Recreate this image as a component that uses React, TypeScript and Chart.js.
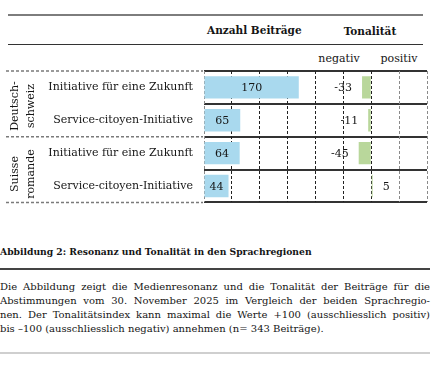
import React, { useEffect, useRef } from 'react';
import { Chart, registerables } from 'chart.js';

Chart.register(...registerables);

const categories = [
  'Initiative für eine Zukunft',
  'Service-citoyen-Initiative',
  'Initiative für eine Zukunft',
  'Service-citoyen-Initiative',
];
const regionLabels = [
  ['Deutsch-', 'schweiz'],
  ['Suisse', 'romande'],
];
const anzahlBeitraege = [170, 65, 64, 44];
const tonalitaet = [-33, -11, -45, 5];
const anzahlRange = [0, 200];
const anzahlStep = 50;
const tonRange = [-200, 200];
const tonStep = 100;
const headerLabels = ['Anzahl Beiträge', 'Tonalität'];
const tonSideLabels = ['negativ', 'positiv'];
const captionTitle = 'Abbildung 2: Resonanz und Tonalität in den Sprachregionen';
const captionLines = [
  'Die Abbildung zeigt die Medienresonanz und die Tonalität der Beiträge für die',
  'Abstimmungen vom 30. November 2025 im Vergleich der beiden Sprachregio-',
  'nen. Der Tonalitätsindex kann maximal die Werte +100 (ausschliesslich positiv)',
  'bis –100 (ausschliesslich negativ) annehmen (n= 343 Beiträge).',
];

const FONT = '"DejaVu Serif", serif';
const BLUE = '#a9d9ee';
const GREEN = '#b9d79b';
const TEXT = '#151515';

const overlayPlugin = {
  id: 'overlay',
  beforeDatasetsDraw(chart: any) {
    const { ctx, chartArea, scales } = chart;
    const y = scales.y;
    const mid = (y.getPixelForValue(1) + y.getPixelForValue(2)) / 2;
    ctx.save();
    ctx.strokeStyle = '#7a7a7a';
    ctx.lineWidth = 1.5;
    ctx.setLineDash([3, 2]);
    [chartArea.top, mid, chartArea.bottom].forEach((yy: number) => {
      ctx.beginPath();
      ctx.moveTo(6, yy);
      ctx.lineTo(chartArea.left - 1, yy);
      ctx.stroke();
    });
    ctx.restore();
  },
  afterDatasetsDraw(chart: any) {
    const { ctx } = chart;
    ctx.save();
    ctx.fillStyle = TEXT;
    ctx.font = `11px ${FONT}`;
    ctx.textBaseline = 'middle';
    const m0 = chart.getDatasetMeta(0);
    m0.data.forEach((bar: any, i: number) => {
      ctx.textAlign = 'center';
      ctx.fillText(String(anzahlBeitraege[i]), (bar.base + bar.x) / 2, bar.y + 1);
    });
    const m1 = chart.getDatasetMeta(1);
    m1.data.forEach((bar: any, i: number) => {
      const v = tonalitaet[i];
      if (v < 0) {
        ctx.textAlign = 'right';
        ctx.fillText(String(v), bar.x - 10, bar.y + 1);
      } else {
        ctx.textAlign = 'left';
        ctx.fillText(String(v), bar.x + 10, bar.y + 1);
      }
    });
    ctx.restore();
  },
};

function ChartBlock() {
  const ref = useRef<HTMLCanvasElement | null>(null);
  useEffect(() => {
    if (!ref.current) return;
    const chart = new Chart(ref.current, {
      type: 'bar',
      data: {
        labels: categories,
        datasets: [
          {
            label: headerLabels[0],
            data: anzahlBeitraege,
            xAxisID: 'x',
            yAxisID: 'y',
            backgroundColor: BLUE,
            grouped: false,
            barPercentage: 0.68,
            categoryPercentage: 1,
          } as any,
          {
            label: headerLabels[1],
            data: tonalitaet,
            xAxisID: 'x2',
            yAxisID: 'y',
            backgroundColor: GREEN,
            grouped: false,
            barPercentage: 0.68,
            categoryPercentage: 1,
          } as any,
        ],
      },
      options: {
        indexAxis: 'y',
        responsive: false,
        animation: false,
        devicePixelRatio: 1,
        layout: { padding: { left: 8, top: 71, right: 8, bottom: 8 } },
        plugins: { legend: { display: false }, tooltip: { enabled: false } },
        scales: {
          y: {
            type: 'category',
            position: 'left',
            afterFit: (s: any) => { s.width = 196; },
            grid: { drawTicks: false, color: '#333', lineWidth: 2, offset: true },
            border: { display: false, dash: [] },
            ticks: { padding: 11, color: TEXT, font: { family: FONT, size: 11 } },
          },
          x: {
            type: 'linear',
            position: 'bottom',
            stack: 'panels',
            stackWeight: 1,
            min: anzahlRange[0],
            max: anzahlRange[1],
            afterFit: (s: any) => { s.height = 0; },
            ticks: { display: false, stepSize: anzahlStep },
            grid: {
              drawTicks: false,
              lineWidth: 1,
              color: (c: any) => (c.tick && c.tick.value === 0 ? '#8a8a8a' : '#222'),
            },
            border: { display: false, dash: [3, 2] },
          },
          x2: {
            type: 'linear',
            position: 'bottom',
            stack: 'panels',
            stackWeight: 1,
            min: tonRange[0],
            max: tonRange[1],
            afterFit: (s: any) => { s.height = 0; },
            ticks: { display: false, stepSize: tonStep },
            grid: {
              drawTicks: false,
              lineWidth: 1,
              color: (c: any) => (c.tick && c.tick.value > 0 ? '#8a8a8a' : '#222'),
            },
            border: { display: false, dash: [3, 2] },
          },
        },
      } as any,
      plugins: [overlayPlugin],
    });
    return () => chart.destroy();
  }, []);
  return (
    <canvas
      ref={ref}
      width={435}
      height={220}
      style={{ position: 'absolute', left: 0, top: 0, width: 435, height: 220 }}
    />
  );
}

const abs = (left: number, top: number, extra: any = {}) => ({
  position: 'absolute' as const,
  left,
  top,
  ...extra,
});

export default function App() {
  const groupCenters = [106, 174];
  return (
    <div style={{ position: 'absolute', left: 0, top: 0, width: 435, height: 367, background: '#fff', fontFamily: FONT, color: TEXT }}>
      <div style={abs(8, 14, { width: 415, height: 2, background: '#7d7d7d' })} />
      <div style={abs(8, 43.5, { width: 415, height: 1.5, background: '#333' })} />
      <div style={abs(207, 22, { fontSize: 10.5, fontWeight: 'bold', lineHeight: '16px', whiteSpace: 'nowrap' })}>{headerLabels[0]}</div>
      <div style={abs(320, 23, { width: 100, textAlign: 'center', fontSize: 10.5, fontWeight: 'bold', lineHeight: '16px' })}>{headerLabels[1]}</div>
      <div style={abs(299, 51, { width: 80, textAlign: 'center', fontSize: 11, lineHeight: '16px' })}>{tonSideLabels[0]}</div>
      <div style={abs(359, 51, { width: 80, textAlign: 'center', fontSize: 11, lineHeight: '16px' })}>{tonSideLabels[1]}</div>
      <ChartBlock />
      {regionLabels.map((lines, i) => (
        <div
          key={i}
          style={abs(23 - 35, groupCenters[i] - 16, {
            width: 70,
            height: 32,
            lineHeight: '16px',
            fontSize: 11,
            textAlign: 'center',
            transform: 'rotate(-90deg)',
            whiteSpace: 'nowrap',
          })}
        >
          {lines.map((l, j) => (
            <div key={j}>{l}</div>
          ))}
        </div>
      ))}
      <div style={abs(0, 244, { fontSize: 9.2, fontWeight: 'bold', lineHeight: '16px', whiteSpace: 'nowrap' })}>{captionTitle}</div>
      <div style={abs(0, 268, { width: 430, height: 1.5, background: '#444' })} />
      <div style={abs(0, 280, { width: 430, fontSize: 10, lineHeight: '14px' })}>
        {captionLines.map((l, i) => (
          <div
            key={i}
            style={{
              whiteSpace: 'nowrap',
              textAlign: i < captionLines.length - 1 ? 'justify' : 'left',
              textAlignLast: i < captionLines.length - 1 ? 'justify' : 'left',
            } as any}
          >
            {l}
          </div>
        ))}
      </div>
      <div style={abs(0, 352, { width: 430, height: 2, background: '#cfcfcf' })} />
    </div>
  );
}
